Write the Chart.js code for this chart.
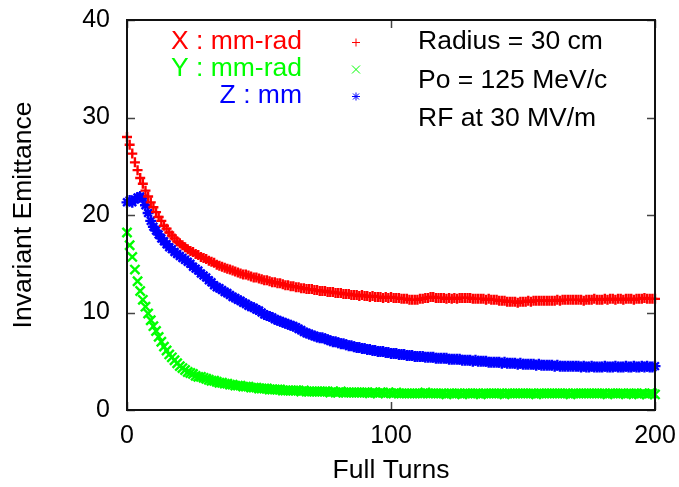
<!DOCTYPE html>
<html>
<head>
<meta charset="utf-8">
<title>Invariant Emittance</title>
<script src="https://cdn.jsdelivr.net/npm/chart.js@4/dist/chart.umd.min.js"></script>
<style>
  body { margin: 0; background: #fff; }
  #wrap { width: 679px; height: 487px; }
</style>
</head>
<body>
<div id="wrap"><canvas id="emitChart" width="679" height="487"></canvas></div>
<script>
// emittance per full turn, turns 0..200
const turns = Array.from({ length: 201 }, (_, i) => i);

const emitX = [
  28.0, 27.2, 26.3, 25.4, 24.6, 23.8, 23.2, 22.5, 21.9, 21.3,
  20.8, 20.3, 19.8, 19.4, 18.9, 18.6, 18.2, 17.9, 17.6, 17.3,
  17.1, 16.9, 16.7, 16.5, 16.3, 16.2, 16.0, 15.9, 15.7, 15.6,
  15.5, 15.3, 15.2, 15.1, 14.9, 14.8, 14.7, 14.6, 14.5, 14.4,
  14.3, 14.2, 14.1, 14.0, 13.9, 13.9, 13.8, 13.7, 13.6, 13.6,
  13.5, 13.4, 13.3, 13.3, 13.2, 13.1, 13.1, 13.0, 13.0, 12.9,
  12.8, 12.8, 12.7, 12.7, 12.6, 12.6, 12.5, 12.5, 12.4, 12.4,
  12.4, 12.3, 12.3, 12.2, 12.2, 12.2, 12.1, 12.1, 12.1, 12.0,
  12.0, 12.0, 11.9, 11.9, 11.9, 11.8, 11.8, 11.8, 11.7, 11.8,
  11.7, 11.7, 11.6, 11.7, 11.6, 11.6, 11.6, 11.5, 11.6, 11.5,
  11.6, 11.5, 11.5, 11.5, 11.4, 11.4, 11.4, 11.3, 11.3, 11.3,
  11.3, 11.4, 11.4, 11.5, 11.5, 11.6, 11.6, 11.5, 11.5, 11.5,
  11.5, 11.4, 11.5, 11.4, 11.5, 11.4, 11.5, 11.5, 11.5, 11.5,
  11.5, 11.4, 11.4, 11.4, 11.4, 11.4, 11.3, 11.4, 11.3, 11.3,
  11.3, 11.2, 11.2, 11.2, 11.1, 11.1, 11.1, 11.1, 11.0, 11.1,
  11.1, 11.1, 11.2, 11.1, 11.2, 11.2, 11.2, 11.2, 11.2, 11.2,
  11.2, 11.2, 11.2, 11.3, 11.2, 11.3, 11.3, 11.3, 11.3, 11.3,
  11.3, 11.3, 11.3, 11.2, 11.3, 11.3, 11.3, 11.4, 11.3, 11.3,
  11.3, 11.4, 11.3, 11.4, 11.4, 11.3, 11.4, 11.4, 11.3, 11.4,
  11.4, 11.4, 11.3, 11.4, 11.4, 11.4, 11.5, 11.4, 11.4, 11.4,
  11.4
];

const emitY = [
  18.2, 16.9, 15.7, 14.4, 13.2, 12.2, 11.3, 10.6, 9.9, 9.2,
  8.6, 8.1, 7.5, 7.0, 6.5, 6.1, 5.7, 5.4, 5.1, 4.8,
  4.5, 4.3, 4.1, 3.9, 3.8, 3.7, 3.5, 3.4, 3.4, 3.3,
  3.2, 3.1, 3.0, 3.0, 2.9, 2.8, 2.8, 2.7, 2.7, 2.6,
  2.6, 2.5, 2.5, 2.5, 2.4, 2.4, 2.4, 2.3, 2.3, 2.3,
  2.2, 2.2, 2.2, 2.2, 2.1, 2.1, 2.1, 2.1, 2.1, 2.0,
  2.0, 2.0, 2.0, 2.0, 2.0, 2.0, 1.9, 2.0, 1.9, 1.9,
  1.9, 1.9, 1.9, 1.9, 1.9, 1.9, 1.9, 1.8, 1.9, 1.8,
  1.8, 1.9, 1.8, 1.8, 1.8, 1.8, 1.8, 1.8, 1.8, 1.8,
  1.8, 1.8, 1.7, 1.8, 1.8, 1.7, 1.8, 1.8, 1.7, 1.8,
  1.7, 1.7, 1.8, 1.7, 1.7, 1.7, 1.7, 1.7, 1.7, 1.7,
  1.7, 1.7, 1.7, 1.8, 1.7, 1.7, 1.7, 1.7, 1.7, 1.7,
  1.7, 1.6, 1.7, 1.7, 1.7, 1.7, 1.7, 1.6, 1.7, 1.7,
  1.7, 1.7, 1.7, 1.7, 1.6, 1.7, 1.7, 1.7, 1.7, 1.7,
  1.7, 1.7, 1.7, 1.6, 1.7, 1.7, 1.7, 1.7, 1.7, 1.7,
  1.7, 1.7, 1.7, 1.7, 1.7, 1.6, 1.7, 1.7, 1.7, 1.7,
  1.7, 1.7, 1.7, 1.7, 1.7, 1.7, 1.7, 1.7, 1.6, 1.7,
  1.7, 1.7, 1.7, 1.7, 1.7, 1.7, 1.7, 1.7, 1.7, 1.7,
  1.7, 1.7, 1.6, 1.7, 1.7, 1.7, 1.7, 1.7, 1.7, 1.6,
  1.7, 1.7, 1.7, 1.7, 1.6, 1.7, 1.7, 1.6, 1.7, 1.7,
  1.6
];

const emitZ = [
  21.3, 21.5, 21.3, 21.6, 21.8, 21.9, 21.7, 21.0, 20.2, 19.4,
  18.8, 18.4, 18.0, 17.6, 17.3, 17.0, 16.7, 16.5, 16.2, 16.0,
  15.8, 15.6, 15.4, 15.2, 15.0, 14.7, 14.5, 14.3, 14.0, 13.8,
  13.6, 13.3, 13.1, 12.8, 12.6, 12.5, 12.3, 12.1, 12.0, 11.8,
  11.6, 11.5, 11.3, 11.2, 11.0, 10.9, 10.7, 10.6, 10.5, 10.3,
  10.2, 10.0, 9.8, 9.7, 9.6, 9.5, 9.3, 9.2, 9.1, 9.0,
  8.9, 8.8, 8.7, 8.6, 8.5, 8.3, 8.2, 8.0, 7.9, 7.8,
  7.7, 7.6, 7.5, 7.4, 7.4, 7.3, 7.2, 7.1, 7.0, 7.0,
  6.9, 6.8, 6.8, 6.7, 6.6, 6.6, 6.5, 6.4, 6.4, 6.3,
  6.3, 6.2, 6.2, 6.1, 6.1, 6.0, 6.0, 6.0, 5.9, 5.9,
  5.8, 5.8, 5.8, 5.7, 5.7, 5.7, 5.6, 5.6, 5.6, 5.5,
  5.5, 5.5, 5.5, 5.4, 5.4, 5.4, 5.4, 5.3, 5.3, 5.3,
  5.3, 5.3, 5.2, 5.2, 5.2, 5.2, 5.2, 5.1, 5.1, 5.1,
  5.1, 5.0, 5.1, 5.0, 5.0, 5.0, 5.0, 4.9, 4.9, 4.9,
  4.9, 4.9, 4.8, 4.9, 4.8, 4.8, 4.8, 4.8, 4.7, 4.8,
  4.7, 4.7, 4.7, 4.7, 4.7, 4.6, 4.7, 4.6, 4.6, 4.6,
  4.6, 4.6, 4.5, 4.6, 4.5, 4.5, 4.5, 4.5, 4.5, 4.5,
  4.5, 4.5, 4.4, 4.5, 4.4, 4.4, 4.5, 4.4, 4.4, 4.4,
  4.4, 4.5, 4.4, 4.4, 4.4, 4.5, 4.4, 4.4, 4.4, 4.5,
  4.4, 4.4, 4.5, 4.4, 4.4, 4.5, 4.4, 4.5, 4.4, 4.4,
  4.5
];

const xTickValues = [0, 100, 200];
const yTickValues = [0, 10, 20, 30, 40];

const keyLabels = ['X : mm-rad', 'Y : mm-rad', 'Z : mm'];
const keyColors = ['#ff0000', '#00ff00', '#0000ff'];
const keyMarks = ['cross', 'crossRot', 'star'];
const notes = ['Radius = 30 cm', 'Po = 125 MeV/c', 'RF at 30 MV/m'];

const FONT = "'Liberation Sans', Arial, Helvetica, sans-serif";

function toPoints(ys) {
  return turns.map((t, i) => ({ x: t, y: ys[i] }));
}

function drawMark(ctx, kind, x, y, r) {
  ctx.beginPath();
  if (kind === 'cross' || kind === 'star') {
    ctx.moveTo(x - r, y); ctx.lineTo(x + r, y);
    ctx.moveTo(x, y - r); ctx.lineTo(x, y + r);
  }
  if (kind === 'crossRot' || kind === 'star') {
    const d = kind === 'star' ? r * 0.75 : r;
    ctx.moveTo(x - d, y - d); ctx.lineTo(x + d, y + d);
    ctx.moveTo(x - d, y + d); ctx.lineTo(x + d, y - d);
  }
  ctx.stroke();
}

// border, inward ticks, key and run notes
const decorations = {
  id: 'decorations',
  afterDatasetsDraw(chart) {
    const ctx = chart.ctx;
    const a = chart.chartArea;
    const sx = chart.scales.x;
    const sy = chart.scales.y;
    ctx.save();

    ctx.strokeStyle = '#444';
    ctx.lineWidth = 1.5;
    ctx.beginPath();
    xTickValues.forEach(v => {
      const px = Math.round(sx.getPixelForValue(v)) + 0.5;
      ctx.moveTo(px, a.bottom); ctx.lineTo(px, a.bottom - 8);
      ctx.moveTo(px, a.top); ctx.lineTo(px, a.top + 8);
    });
    yTickValues.forEach(v => {
      const py = Math.round(sy.getPixelForValue(v)) + 0.5;
      ctx.moveTo(a.left, py); ctx.lineTo(a.left + 8, py);
      ctx.moveTo(a.right, py); ctx.lineTo(a.right - 8, py);
    });
    ctx.stroke();

    ctx.strokeStyle = '#111';
    ctx.lineWidth = 2;
    ctx.strokeRect(a.left, a.top, a.right - a.left, a.bottom - a.top);

    ctx.font = '26.5px ' + FONT;
    ctx.textBaseline = 'middle';
    keyLabels.forEach((txt, i) => {
      const y = a.top + 22 + i * 27;
      ctx.fillStyle = keyColors[i];
      ctx.textAlign = 'right';
      ctx.fillText(txt, a.left + 175, y);
      ctx.strokeStyle = keyColors[i];
      ctx.lineWidth = 1;
      drawMark(ctx, keyMarks[i], a.left + 229, y + 0.5, 4);
    });

    ctx.fillStyle = '#000';
    ctx.textAlign = 'left';
    notes.forEach((txt, i) => {
      ctx.fillText(txt, a.left + 291, a.top + 22 + i * 38.5);
    });

    ctx.restore();
  }
};

function graphEmittance(canvasID) {
  const data = {
    datasets: [
      { label: keyLabels[0], data: toPoints(emitX), borderColor: keyColors[0], pointStyle: 'cross', pointRadius: 5 },
      { label: keyLabels[1], data: toPoints(emitY), borderColor: keyColors[1], pointStyle: 'crossRot', pointRadius: 6.5 },
      { label: keyLabels[2], data: toPoints(emitZ), borderColor: keyColors[2], pointStyle: 'star', pointRadius: 5.5 }
    ].map(ds => Object.assign(ds, {
      showLine: false,
      pointBorderWidth: 2.4,
      pointBorderColor: ds.borderColor,
      backgroundColor: ds.borderColor,
      clip: false
    }))
  };

  const config = {
    type: 'scatter',
    data: data,
    options: {
      responsive: false,
      animation: false,
      layout: { padding: { top: 20, right: 24, left: 0, bottom: 0 } },
      plugins: { legend: { display: false }, tooltip: { enabled: false } },
      scales: {
        x: {
          type: 'linear',
          min: 0,
          max: 200,
          afterFit: s => { s.height = 77; s.paddingLeft = 0; s.paddingRight = 0; },
          afterBuildTicks: s => { s.ticks = xTickValues.map(v => ({ value: v })); },
          grid: { display: false, drawTicks: false },
          border: { display: false },
          ticks: { color: '#000', font: { family: FONT, size: 25 }, padding: 11, maxRotation: 0 },
          title: { display: true, text: 'Full Turns', color: '#000', font: { family: FONT, size: 26.5 }, padding: { top: 0, bottom: 0 } }
        },
        y: {
          min: 0,
          max: 40,
          afterFit: s => { s.width = 127; s.paddingTop = 0; s.paddingBottom = 0; },
          afterBuildTicks: s => { s.ticks = yTickValues.map(v => ({ value: v })); },
          grid: { display: false, drawTicks: false },
          border: { display: false },
          ticks: { color: '#000', font: { family: FONT, size: 25 }, padding: 17 },
          title: { display: true, text: 'Invariant Emittance', color: '#000', font: { family: FONT, size: 26.5 }, padding: { top: 8, bottom: 0 } }
        }
      }
    },
    plugins: [decorations]
  };

  const ctx = document.getElementById(canvasID).getContext('2d');
  return new Chart(ctx, config);
}

graphEmittance('emitChart');
</script>
</body>
</html>
